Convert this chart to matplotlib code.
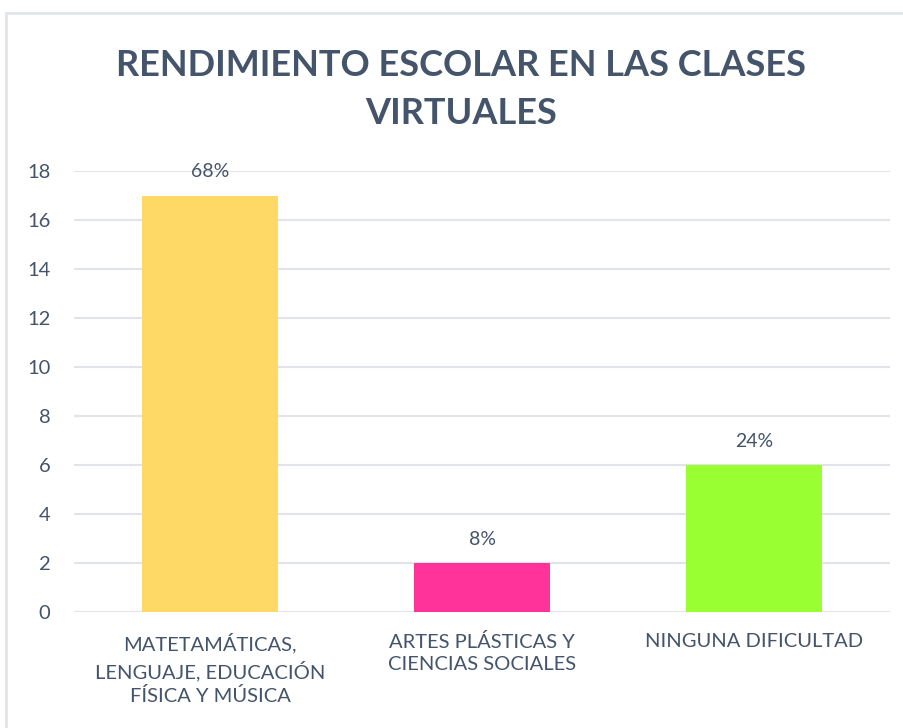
import matplotlib
matplotlib.use('Agg')
import matplotlib.pyplot as plt
from matplotlib.patches import Rectangle

categorias = ['MATETAMÁTICAS,\nLENGUAJE, EDUCACIÓN\nFÍSICA Y MÚSICA',
              'ARTES PLÁSTICAS Y\nCIENCIAS SOCIALES',
              'NINGUNA DIFICULTAD']
valores = [17, 2, 6]
etiquetas = ['68%', '8%', '24%']
colores = ['#FFD966', '#FF3399', '#99FF33']

texto = '#44546A'
plt.rcParams['font.family'] = ['Lato', 'DejaVu Sans']

fig = plt.figure(figsize=(9.04, 7.28), dpi=100)
ax = fig.add_axes([0.0819, 0.1593, 0.9026, 0.6058])

x = range(len(categorias))
barras = ax.bar(x, valores, width=0.5, color=colores, zorder=3)
for b, et in zip(barras, etiquetas):
    ax.annotate(et, (b.get_x() + b.get_width() / 2, b.get_height()),
                xytext=(0, 11), textcoords='offset points',
                ha='center', va='bottom', fontsize=14, color=texto)

ax.set_xlim(-0.5, 2.5)
ax.set_ylim(0, 18)
ax.set_yticks(range(0, 19, 2))
ax.set_xticks(list(x))
ax.set_xticklabels(categorias, fontsize=14.5, color=texto, linespacing=1.4)
ax.tick_params(axis='y', labelsize=14.5, labelcolor=texto, length=0, pad=17)
ax.tick_params(axis='x', length=0, pad=15)
ax.grid(axis='y', color='#E1E5EA', linewidth=1.5, zorder=0)
for s in ax.spines.values():
    s.set_visible(False)

fig.text(0.51, 0.877, 'RENDIMIENTO ESCOLAR EN LAS CLASES\nVIRTUALES',
         ha='center', va='center', fontsize=26, fontweight='bold',
         color=texto, linespacing=1.55)

fig.patches.append(Rectangle((6 / 904, -0.01), 1.0, (728 - 13) / 728 + 0.01,
                             transform=fig.transFigure, fill=False,
                             edgecolor='#E1E5EA', linewidth=2))

fig.savefig('out.png', dpi=100)
